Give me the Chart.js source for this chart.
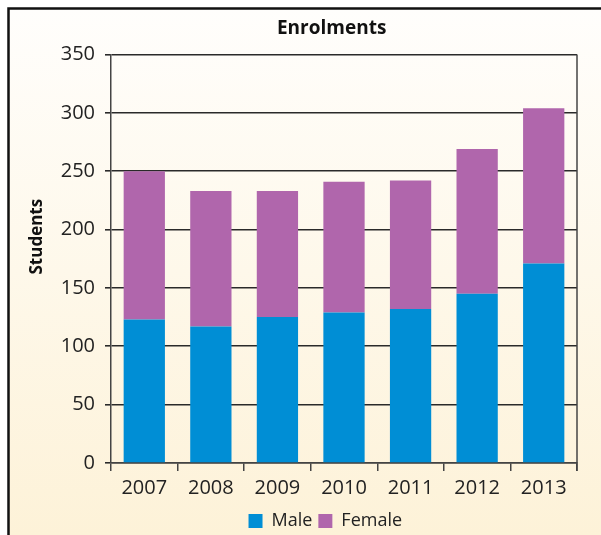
<!DOCTYPE html>
<html>
<head>
<meta charset="utf-8">
<script src="https://cdn.jsdelivr.net/npm/chart.js@4"></script>
<style>
  body { margin: 0; background: #fff; }
  #wrap { width: 601px; height: 535px; }
</style>
</head>
<body>
<div id="wrap"><canvas id="myChart" width="601" height="535"></canvas></div>
<script>
const years = ["2007", "2008", "2009", "2010", "2011", "2012", "2013"];
const male = [123, 117, 125, 129, 132, 145, 171];
const female = [127, 116, 108, 112, 110, 124, 133];
const yTicks = [0, 50, 100, 150, 200, 250, 300, 350];

// frame + cream background behind the chart
const framePlugin = {
  id: "frame",
  beforeDraw(chart) {
    const ctx = chart.ctx;
    ctx.save();
    ctx.fillStyle = "#fff";
    ctx.fillRect(0, 0, chart.width, chart.height);
    const grad = ctx.createLinearGradient(0, 8, 0, chart.height);
    grad.addColorStop(0, "#fffefc");
    grad.addColorStop(1, "#fdf2d8");
    ctx.fillStyle = grad;
    ctx.fillRect(9, 9, chart.width, chart.height);
    ctx.strokeStyle = "#111";
    ctx.lineWidth = 2.5;
    ctx.strokeRect(8.5, 8.5, chart.width + 10, chart.height + 10);
    ctx.restore();
  },
  afterDraw(chart) {
    const a = chart.chartArea;
    const ctx = chart.ctx;
    ctx.save();
    ctx.strokeStyle = "#444";
    ctx.lineWidth = 1.5;
    ctx.beginPath();
    ctx.moveTo(a.right, a.top);
    ctx.lineTo(a.right, a.bottom + 8);
    ctx.stroke();
    ctx.restore();
  }
};

new Chart("myChart", {
  type: "bar",
  data: {
    labels: years,
    datasets: [
      { label: "Male", data: male, backgroundColor: "#008ed5" },
      { label: "Female", data: female, backgroundColor: "#b066ac" }
    ]
  },
  options: {
    responsive: false,
    animation: false,
    layout: { padding: { left: 0, right: 24, top: 0, bottom: -5 } },
    datasets: { bar: { categoryPercentage: 1, barPercentage: 0.62 } },
    scales: {
      x: {
        stacked: true,
        grid: { display: true, drawOnChartArea: false, drawTicks: true, tickLength: 8, offset: true, color: "#444", lineWidth: 1.5 },
        border: { display: true, color: "#444", width: 1.5 },
        ticks: { color: "#222", padding: 5.5, font: { family: "Open Sans", size: 20 } }
      },
      y: {
        stacked: true,
        min: 0,
        max: 350,
        afterBuildTicks(scale) {
          scale.ticks = yTicks.map(v => ({ value: v }));
        },
        afterFit(scale) {
          scale.width = 111;
        },
        grid: { color: "#2a2a2a", lineWidth: 1.6, tickLength: 6 },
        border: { display: true, color: "#444", width: 1.5 },
        ticks: { color: "#222", padding: 10, font: { family: "Open Sans", size: 20 } },
        title: {
          display: true,
          text: "          Students",
          color: "#111",
          padding: { top: 26.5, bottom: 0 },
          font: { family: "Open Sans", size: 17, weight: "bold" }
        }
      }
    },
    plugins: {
      title: {
        display: true,
        fullSize: false,
        text: "Enrolments     ",
        color: "#111",
        padding: { top: 17, bottom: 14.7 },
        font: { family: "Open Sans", size: 19, weight: "bold" }
      },
      legend: {
        position: "bottom",
        fullSize: false,
        labels: {
          color: "#222",
          boxWidth: 14,
          boxHeight: 14,
          padding: 6,
          font: { family: "Open Sans", size: 18 },
          generateLabels(chart) {
            const items = Chart.defaults.plugins.legend.labels.generateLabels(chart);
            items[items.length - 1].text += "        ";
            return items;
          }
        }
      },
      tooltip: { enabled: false }
    }
  },
  plugins: [framePlugin]
});
</script>
</body>
</html>
